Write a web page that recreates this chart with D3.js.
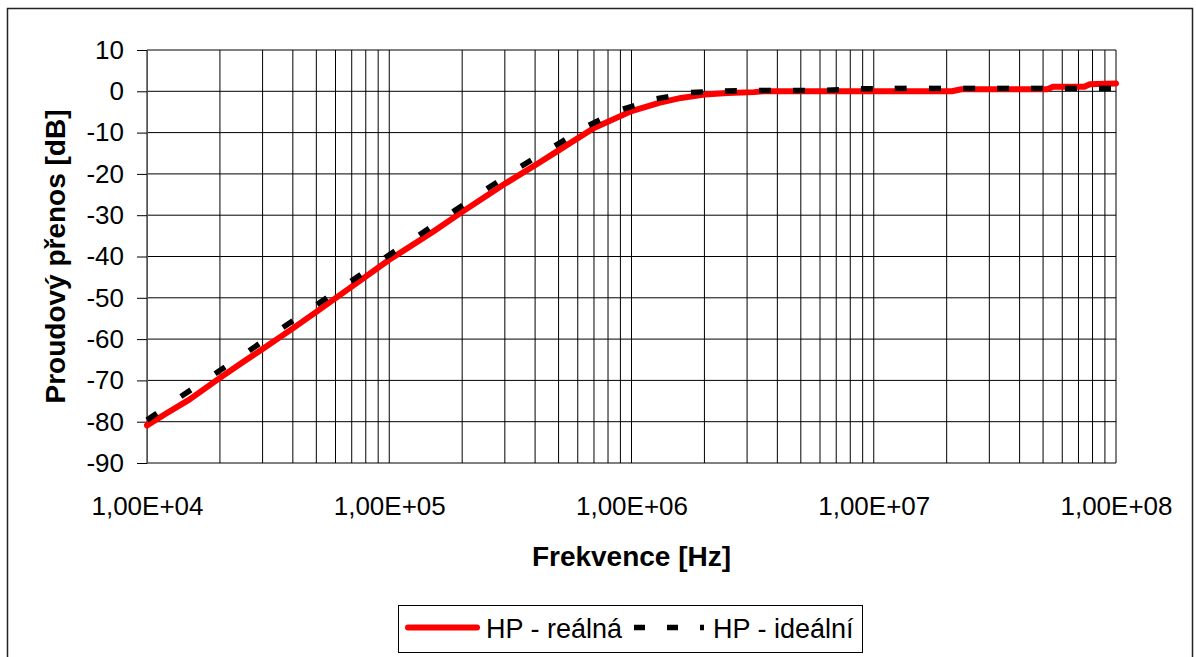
<!DOCTYPE html>
<html>
<head>
<meta charset="utf-8">
<script src="https://cdn.jsdelivr.net/npm/d3@7"></script>
<style>
    html, body { margin: 0; padding: 0; background: #fff; }
    svg { display: block; font-family: "Liberation Sans", Arial, sans-serif; }
</style>
</head>
<body>
<div id="chart"></div>
<script>
// HP - reálná (measured)
var realFreq = [1e4, 1.2e4, 1.5e4, 2e4, 2.5e4, 3e4, 4e4, 5e4, 7e4, 1e5, 1.5e5, 2e5, 3e5, 4e5, 5e5, 7e5,
    1e6, 1.3e6, 1.6e6, 2e6, 2.5e6, 3.2e6, 3.5e6, 2.1e7, 2.3e7, 5.2e7, 5.5e7, 7.4e7, 7.8e7, 9e7, 1e8]
var realDb = [-80.9, -78, -74.6, -69.4, -65.5, -62.4, -57.4, -53.4, -47.3, -40.8, -34.2, -29.2, -22.4, -17.9, -14.3, -8.9,
    -4.8, -2.8, -1.6, -0.8, -0.4, -0.2, 0, 0, 0.5, 0.5, 1.1, 1.1, 1.7, 1.8, 1.9]

// HP - ideální
var idealFreq = [1.00e4, 1.38e4, 1.91e4, 2.64e4, 3.64e4, 5.03e4, 6.95e4, 9.60e4, 1.33e5, 1.83e5,
    2.53e5, 3.50e5, 4.83e5, 6.67e5, 9.22e5, 1.27e6, 1.76e6, 2.43e6, 3.36e6, 4.64e6,
    6.41e6, 8.85e6, 1.22e7, 1.69e7, 2.34e7, 3.23e7, 4.46e7, 6.16e7, 8.51e7, 1.00e8]
var idealDb = [-79.6, -73.9, -68.4, -62.8, -57.2, -51.6, -46, -40.3, -34.8, -29.2,
    -23.6, -18.2, -13.2, -8.2, -4.3, -1.8, -0.3, 0.1, 0.2, 0.2,
    0.25, 0.6, 0.7, 0.7, 0.7, 0.7, 0.7, 0.7, 0.7, 0.7]

var yTicks = [10, 0, -10, -20, -30, -40, -50, -60, -70, -80, -90]
var xTicks = [1e4, 1e5, 1e6, 1e7, 1e8]
var xTickLabels = ['1,00E+04', '1,00E+05', '1,00E+06', '1,00E+07', '1,00E+08']

var w = 1196,
    h = 657,
    pLeft = 147,
    pRight = 1116,
    pTop = 50,
    pBottom = 463

var x = d3.scaleLog().domain([1e4, 1e8]).range([pLeft, pRight]),
    y = d3.scaleLinear().domain([-90, 10]).range([pBottom, pTop])

var svg = d3.select('#chart').append('svg')
    .attr('width', w)
    .attr('height', h)

// rámeček celého grafu
svg.append('rect')
    .attr('x', 7.5).attr('y', 8.5)
    .attr('width', 1185).attr('height', 700)
    .attr('fill', '#fff')
    .attr('stroke', '#222')
    .attr('stroke-width', 1.5)

// mřížka
var grid = svg.append('g').attr('stroke', '#000').attr('stroke-width', 1)
grid.selectAll('line.v')
    .data(x.ticks())
    .enter().append('line')
    .attr('class', 'v')
    .attr('x1', function (d) { return x(d) })
    .attr('x2', function (d) { return x(d) })
    .attr('y1', pTop).attr('y2', pBottom)
grid.selectAll('line.h')
    .data(yTicks)
    .enter().append('line')
    .attr('class', 'h')
    .attr('x1', pLeft).attr('x2', pRight)
    .attr('y1', function (d) { return y(d) })
    .attr('y2', function (d) { return y(d) })

// osa Y (obyčejný spojovník místo znaménka minus)
var yAxis = svg.append('g')
    .attr('transform', 'translate(' + pLeft + ',0)')
    .call(d3.axisLeft(y).tickValues(yTicks).tickSize(10).tickPadding(13)
        .tickFormat(function (d) { return String(d) }))
yAxis.select('.domain').attr('stroke', '#555')
yAxis.selectAll('.tick line').attr('stroke', '#000')
yAxis.selectAll('text').attr('font-size', 26).attr('fill', '#000')
    .style('font-family', '"Liberation Sans", Arial, sans-serif')

// osa X
var xAxis = svg.append('g')
    .attr('transform', 'translate(0,' + pBottom + ')')
    .call(d3.axisBottom(x).tickValues(xTicks).tickSize(0).tickPadding(34)
        .tickFormat(function (d, i) { return xTickLabels[i] }))
xAxis.select('.domain').remove()
xAxis.selectAll('text').attr('font-size', 26).attr('fill', '#000')
    .style('font-family', '"Liberation Sans", Arial, sans-serif')

// popisky os
svg.append('text')
    .attr('x', (pLeft + pRight) / 2)
    .attr('y', 566)
    .attr('text-anchor', 'middle')
    .attr('font-size', 28)
    .attr('font-weight', 'bold')
    .text('Frekvence [Hz]')
svg.append('text')
    .attr('transform', 'translate(65,' + (pTop + pBottom) / 2 + ') rotate(-90)')
    .attr('text-anchor', 'middle')
    .attr('font-size', 28)
    .attr('font-weight', 'bold')
    .text('Proudový přenos [dB]')

// reálná křivka
var line = d3.line()
    .x(function (d) { return x(d[0]) })
    .y(function (d) { return y(d[1]) })
svg.append('path')
    .datum(d3.zip(realFreq, realDb))
    .attr('d', line)
    .attr('fill', 'none')
    .attr('stroke', '#ff0000')
    .attr('stroke-width', 6)
    .attr('stroke-linecap', 'round')
    .attr('stroke-linejoin', 'round')

// ideální křivka - čárkovaně, čárka na začátku každého úseku
svg.selectAll('line.ideal')
    .data(d3.pairs(d3.zip(idealFreq, idealDb)))
    .enter().append('line')
    .attr('class', 'ideal')
    .attr('x1', function (d) { return x(d[0][0]) })
    .attr('y1', function (d) { return y(d[0][1]) })
    .attr('x2', function (d) { return x(d[1][0]) })
    .attr('y2', function (d) { return y(d[1][1]) })
    .attr('stroke', '#000')
    .attr('stroke-width', 5.5)
    .attr('stroke-dasharray', '12,1000')

// legenda
var lg = svg.append('g')
lg.append('rect')
    .attr('x', 398.5).attr('y', 605.5)
    .attr('width', 464).attr('height', 47)
    .attr('fill', '#fff')
    .attr('stroke', '#000')
lg.append('line')
    .attr('x1', 408).attr('x2', 477)
    .attr('y1', 627.5).attr('y2', 627.5)
    .attr('stroke', '#ff0000')
    .attr('stroke-width', 6)
    .attr('stroke-linecap', 'round')
lg.append('text')
    .attr('x', 486).attr('y', 638)
    .attr('font-size', 27)
    .text('HP - reálná')
lg.append('line')
    .attr('x1', 634).attr('x2', 704)
    .attr('y1', 627.5).attr('y2', 627.5)
    .attr('stroke', '#000')
    .attr('stroke-width', 5.5)
    .attr('stroke-dasharray', '11,22')
lg.append('text')
    .attr('x', 713).attr('y', 638)
    .attr('font-size', 27)
    .text('HP - ideální')
</script>
</body>
</html>
